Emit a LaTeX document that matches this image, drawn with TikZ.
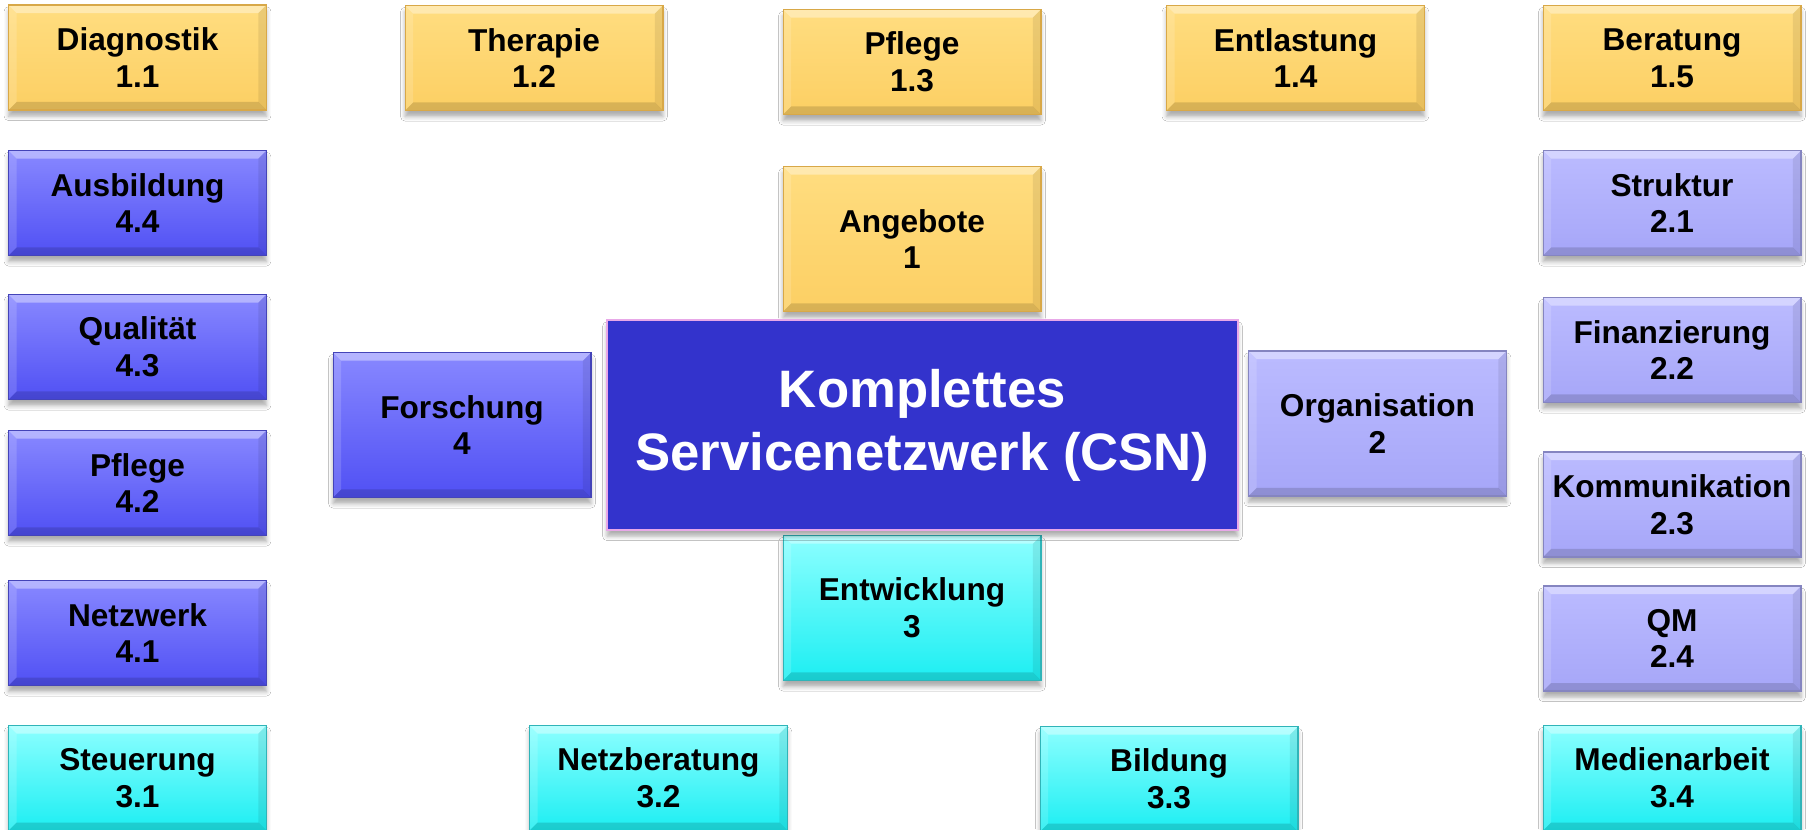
\documentclass[tikz,border=0pt]{standalone}
\usepackage{fontspec}
\setmainfont{Liberation Sans}
\usetikzlibrary{shadows.blur}

\definecolor{goldTop}{HTML}{FFDD80}
\definecolor{goldBot}{HTML}{FCCF63}
\definecolor{goldLine}{HTML}{D8A848}
\definecolor{blueTop}{HTML}{8888FF}
\definecolor{blueBot}{HTML}{5050F4}
\definecolor{blueLine}{HTML}{4444B8}
\definecolor{lilaTop}{HTML}{BBBBFF}
\definecolor{lilaBot}{HTML}{A6A6F8}
\definecolor{lilaLine}{HTML}{8585C0}
\definecolor{cyanTop}{HTML}{8CFFFF}
\definecolor{cyanBot}{HTML}{1CEEF2}
\definecolor{cyanLine}{HTML}{30B4B8}
\definecolor{csnFill}{HTML}{3333CC}
\definecolor{csnLine}{HTML}{E8A8E8}

\tikzset{
  bevel/.style={path picture={
    \fill[white,opacity=.38]
      (path picture bounding box.north west) -- (path picture bounding box.north east)
      -- ([shift={(-8,8)}]path picture bounding box.north east)
      -- ([shift={(8,8)}]path picture bounding box.north west) -- cycle;
    \fill[white,opacity=.15]
      (path picture bounding box.north west) -- ([shift={(8,8)}]path picture bounding box.north west)
      -- ([shift={(8,-8)}]path picture bounding box.south west)
      -- (path picture bounding box.south west) -- cycle;
    \fill[black,opacity=.08]
      (path picture bounding box.north east) -- ([shift={(-8,8)}]path picture bounding box.north east)
      -- ([shift={(-8,-8)}]path picture bounding box.south east)
      -- (path picture bounding box.south east) -- cycle;
    \fill[black,opacity=.14]
      (path picture bounding box.south west) -- (path picture bounding box.south east)
      -- ([shift={(-8,-8)}]path picture bounding box.south east)
      -- ([shift={(8,-8)}]path picture bounding box.south west) -- cycle;
  }},
  softshadow/.style={blur shadow={shadow xshift=0pt, shadow yshift=-3.5pt,
                 shadow blur radius=2.5pt, shadow opacity=32}},
  tile/.style={draw, line width=0.6pt, inner sep=0pt, align=center,
    font=\fontsize{18}{21}\selectfont\bfseries, text=black, bevel, softshadow},
  small/.style={tile, minimum width=5.16cm, minimum height=2.1cm},
  mid/.style={tile, minimum width=5.16cm, minimum height=2.9cm},
  gold/.style={top color=goldTop, bottom color=goldBot, draw=goldLine},
  blue/.style={top color=blueTop, bottom color=blueBot, draw=blueLine},
  lila/.style={top color=lilaTop, bottom color=lilaBot, draw=lilaLine},
  teal/.style={top color=cyanTop, bottom color=cyanBot, draw=cyanLine},
}

\begin{document}
\begin{tikzpicture}[x=0.02cm, y=-0.02cm]
  \useasboundingbox[fill=white] (0,0) rectangle (1806,829);

  % offers (1.x)
  \node[small, gold] (d11) at (137.5,57.5) {Diagnostik\\1.1};
  \node[small, gold] (d12) at (534,58)     {Therapie\\1.2};
  \node[small, gold] (d13) at (912,62)     {Pflege\\1.3};
  \node[small, gold] (d14) at (1295.5,58)  {Entlastung\\1.4};
  \node[small, gold] (d15) at (1672,58)    {Beratung\\1.5};

  % research (4.x)
  \node[small, blue] (d44) at (137.5,203) {Ausbildung\\4.4};
  \node[small, blue] (d43) at (137.5,347) {Qualität\\4.3};
  \node[small, blue] (d42) at (137.5,483) {Pflege\\4.2};
  \node[small, blue] (d41) at (137.5,633) {Netzwerk\\4.1};

  % organisation (2.x)
  \node[small, lila] (d21) at (1672,203)   {Struktur\\2.1};
  \node[small, lila] (d22) at (1672,350)   {Finanzierung\\2.2};
  \node[small, lila] (d23) at (1672,504.5) {Kommunikation\\2.3};
  \node[small, lila] (d24) at (1672,638.5) {QM\\2.4};

  % development (3.x)
  \node[small, teal] (d31) at (137.5,778) {Steuerung\\3.1};
  \node[small, teal] (d32) at (658.5,778) {Netzberatung\\3.2};
  \node[small, teal] (d33) at (1169,779)  {Bildung\\3.3};
  \node[small, teal] (d34) at (1672,778)  {Medienarbeit\\3.4};

  % main areas
  \node[mid, gold] (a1) at (912,239)    {Angebote\\1};
  \node[mid, lila] (a2) at (1377.5,423.5) {Organisation\\2};
  \node[mid, teal] (a3) at (912,608)    {Entwicklung\\3};
  \node[mid, blue] (a4) at (462,425)    {Forschung\\4};

  % centre
  \node[draw=csnLine, fill=csnFill, line width=0.8pt, inner sep=0pt,
        minimum width=12.62cm, minimum height=4.2cm, align=center,
        text=white, font=\fontsize{30}{36}\selectfont\bfseries, softshadow]
    (csn) at (922.5,425) {Komplettes\\Servicenetzwerk (CSN)};
\end{tikzpicture}
\end{document}
